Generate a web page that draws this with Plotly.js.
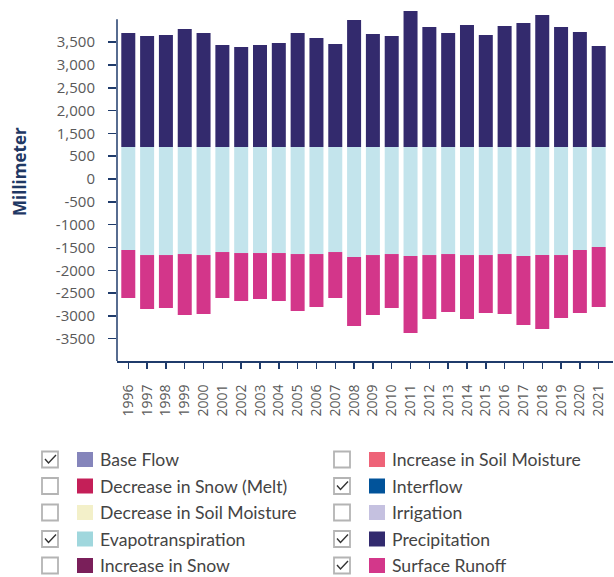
<!DOCTYPE html>
<html><head><meta charset="utf-8">
<script src="https://cdn.plot.ly/plotly-3.0.1.min.js"></script>
<style>html,body{margin:0;padding:0;background:#fff}#chart{width:614px;height:577px}</style>
</head><body><div id="chart"></div>
<script>
const years = ['1996','1997','1998','1999','2000','2001','2002','2003','2004','2005','2006','2007','2008','2009','2010','2011','2012','2013','2014','2015','2016','2017','2018','2019','2020','2021'];
// values read in the chart's (linear) plotting scale
const precipitationTop = [3200,3134,3156,3287,3200,2937,2893,2937,2981,3200,3090,2959,3485,3178,3134,3682,3331,3200,3375,3156,3353,3419,3594,3331,3222,2915];
const evapotranspirationTop = [700,700,700,700,700,700,700,700,700,700,700,700,700,700,700,700,700,700,700,700,700,700,700,700,700,700];
const evapotranspirationBottom = [-1556,-1666,-1666,-1644,-1666,-1600,-1622,-1622,-1622,-1644,-1644,-1600,-1709,-1666,-1644,-1687,-1666,-1644,-1666,-1666,-1644,-1687,-1666,-1666,-1556,-1490];
const surfaceRunoffBottom = [-2608,-2849,-2827,-2981,-2959,-2608,-2674,-2630,-2674,-2893,-2805,-2608,-3222,-2981,-2827,-3375,-3068,-2915,-3068,-2937,-2959,-3200,-3287,-3046,-2937,-2805];
const yTickVals = [3000,2500,2000,1500,1000,500,0,-500,-1000,-1500,-2000,-2500,-3000,-3500];
const yTickText = ['3,500','3,000','2,500','2,000','1,500','500','0','-500','-1000','-1500','-2000','-2500','-3000','-3500'];
const legendNames = ['Base Flow','Decrease in Snow (Melt)','Decrease in Soil Moisture','Evapotranspiration','Increase in Snow','Increase in Soil Moisture','Interflow','Irrigation','Precipitation','Surface Runoff'];
const legendColors = ['#8585bb','#c41f58','#f3f0c9','#a0d7dd','#7a1f5a','#ee6378','#01539a','#c5c1e0','#322a6e','#d3378a'];
const legendChecked = [true,false,false,true,false,false,true,false,true,true];

const C_PRECIP = '#332a6d', C_EVAP = '#c3e4ec', C_RUNOFF = '#d3368a', NAVY = '#1f3b6b';

const evapH = evapotranspirationTop.map((t,i)=>t-evapotranspirationBottom[i]);
const precipH = precipitationTop.map((t,i)=>t-evapotranspirationTop[i]);
const runoffH = evapotranspirationBottom.map((t,i)=>t-surfaceRunoffBottom[i]);

const traces = [
  {type:'bar', name:'Evapotranspiration', x:years, y:evapH, base:evapotranspirationBottom, marker:{color:C_EVAP}},
  {type:'bar', name:'Precipitation', x:years, y:precipH, base:evapotranspirationTop, marker:{color:C_PRECIP}},
  {type:'bar', name:'Surface Runoff', x:years, y:runoffH, base:surfaceRunoffBottom, marker:{color:C_RUNOFF}}
];

const W=614, H=577, L=117, R=613, T=8, B=361;
const px = p => (p-L)/(R-L);
const py = p => (B-p)/(B-T);
const yMin = -3989, yMax = 3750;

const shapes = [
  {type:'line', xref:'paper', yref:'y', x0:0, x1:0, y0:yMin, y1:3506, line:{color:NAVY, width:1.5}}
];
const annotations = [
  {text:'<b>Millimeter</b>', textangle:-90, xref:'paper', yref:'paper', x:px(19.5), y:py(171.5), xanchor:'center', yanchor:'middle', showarrow:false, font:{family:'Open Sans', size:17, color:'#1f3864'}}
];
const colBox = [42, 334], colSq = [77, 369], colTxt = [99, 391];
legendNames.forEach((nm,i)=>{
  const c = Math.floor(i/5), r = i%5;
  const yc = 459.5 + r*26.5;
  shapes.push({type:'rect', xref:'paper', yref:'paper', x0:px(colBox[c]), x1:px(colBox[c]+16), y0:py(yc-8), y1:py(yc+8), line:{color:'#b4b4b4', width:1.8}, fillcolor:'#ffffff'});
  shapes.push({type:'rect', xref:'paper', yref:'paper', x0:px(colSq[c]), x1:px(colSq[c]+16), y0:py(yc-7.5), y1:py(yc+7.5), line:{width:0}, fillcolor:legendColors[i]});
  if (legendChecked[i]) {
    const bx = colBox[c];
    shapes.push({type:'path', xref:'paper', yref:'paper',
      path:`M ${px(bx+3)},${py(yc-0.5)} L ${px(bx+6.5)},${py(yc+3.5)} L ${px(bx+14)},${py(yc-4.5)}`,
      line:{color:'#333333', width:1.4}});
  }
  annotations.push({text:nm, xref:'paper', yref:'paper', x:px(colTxt[c]), y:py(yc), xanchor:'left', yanchor:'middle', borderpad:0, showarrow:false, font:{family:'Lato', size:17.6, color:'#444444'}});
});

const layout = {
  width:W, height:H, margin:{l:L, r:W-R, t:T, b:H-B},
  paper_bgcolor:'#fff', plot_bgcolor:'#fff',
  barmode:'overlay', bargap:0.256, showlegend:false,
  xaxis:{type:'category', range:[-0.6,25.76], showline:true, linecolor:NAVY, linewidth:2, ticks:'outside', ticklen:6, tickcolor:NAVY, tickwidth:1.5, tickangle:-90, tickfont:{family:'Open Sans', size:14, color:'#595959'}, showgrid:false, zeroline:false, ticklabelstandoff:10, fixedrange:true},
  yaxis:{range:[yMin,yMax], showline:false, ticks:'outside', ticklen:8, tickcolor:NAVY, tickwidth:1.5, tickvals:yTickVals, ticktext:yTickText, tickfont:{family:'Open Sans', size:15, color:'#595959'}, showgrid:false, zeroline:false, ticklabelstandoff:10, fixedrange:true},
  shapes:shapes, annotations:annotations,
  font:{family:'Open Sans'}
};
Plotly.newPlot('chart', traces, layout, {staticPlot:true});
</script></body></html>
